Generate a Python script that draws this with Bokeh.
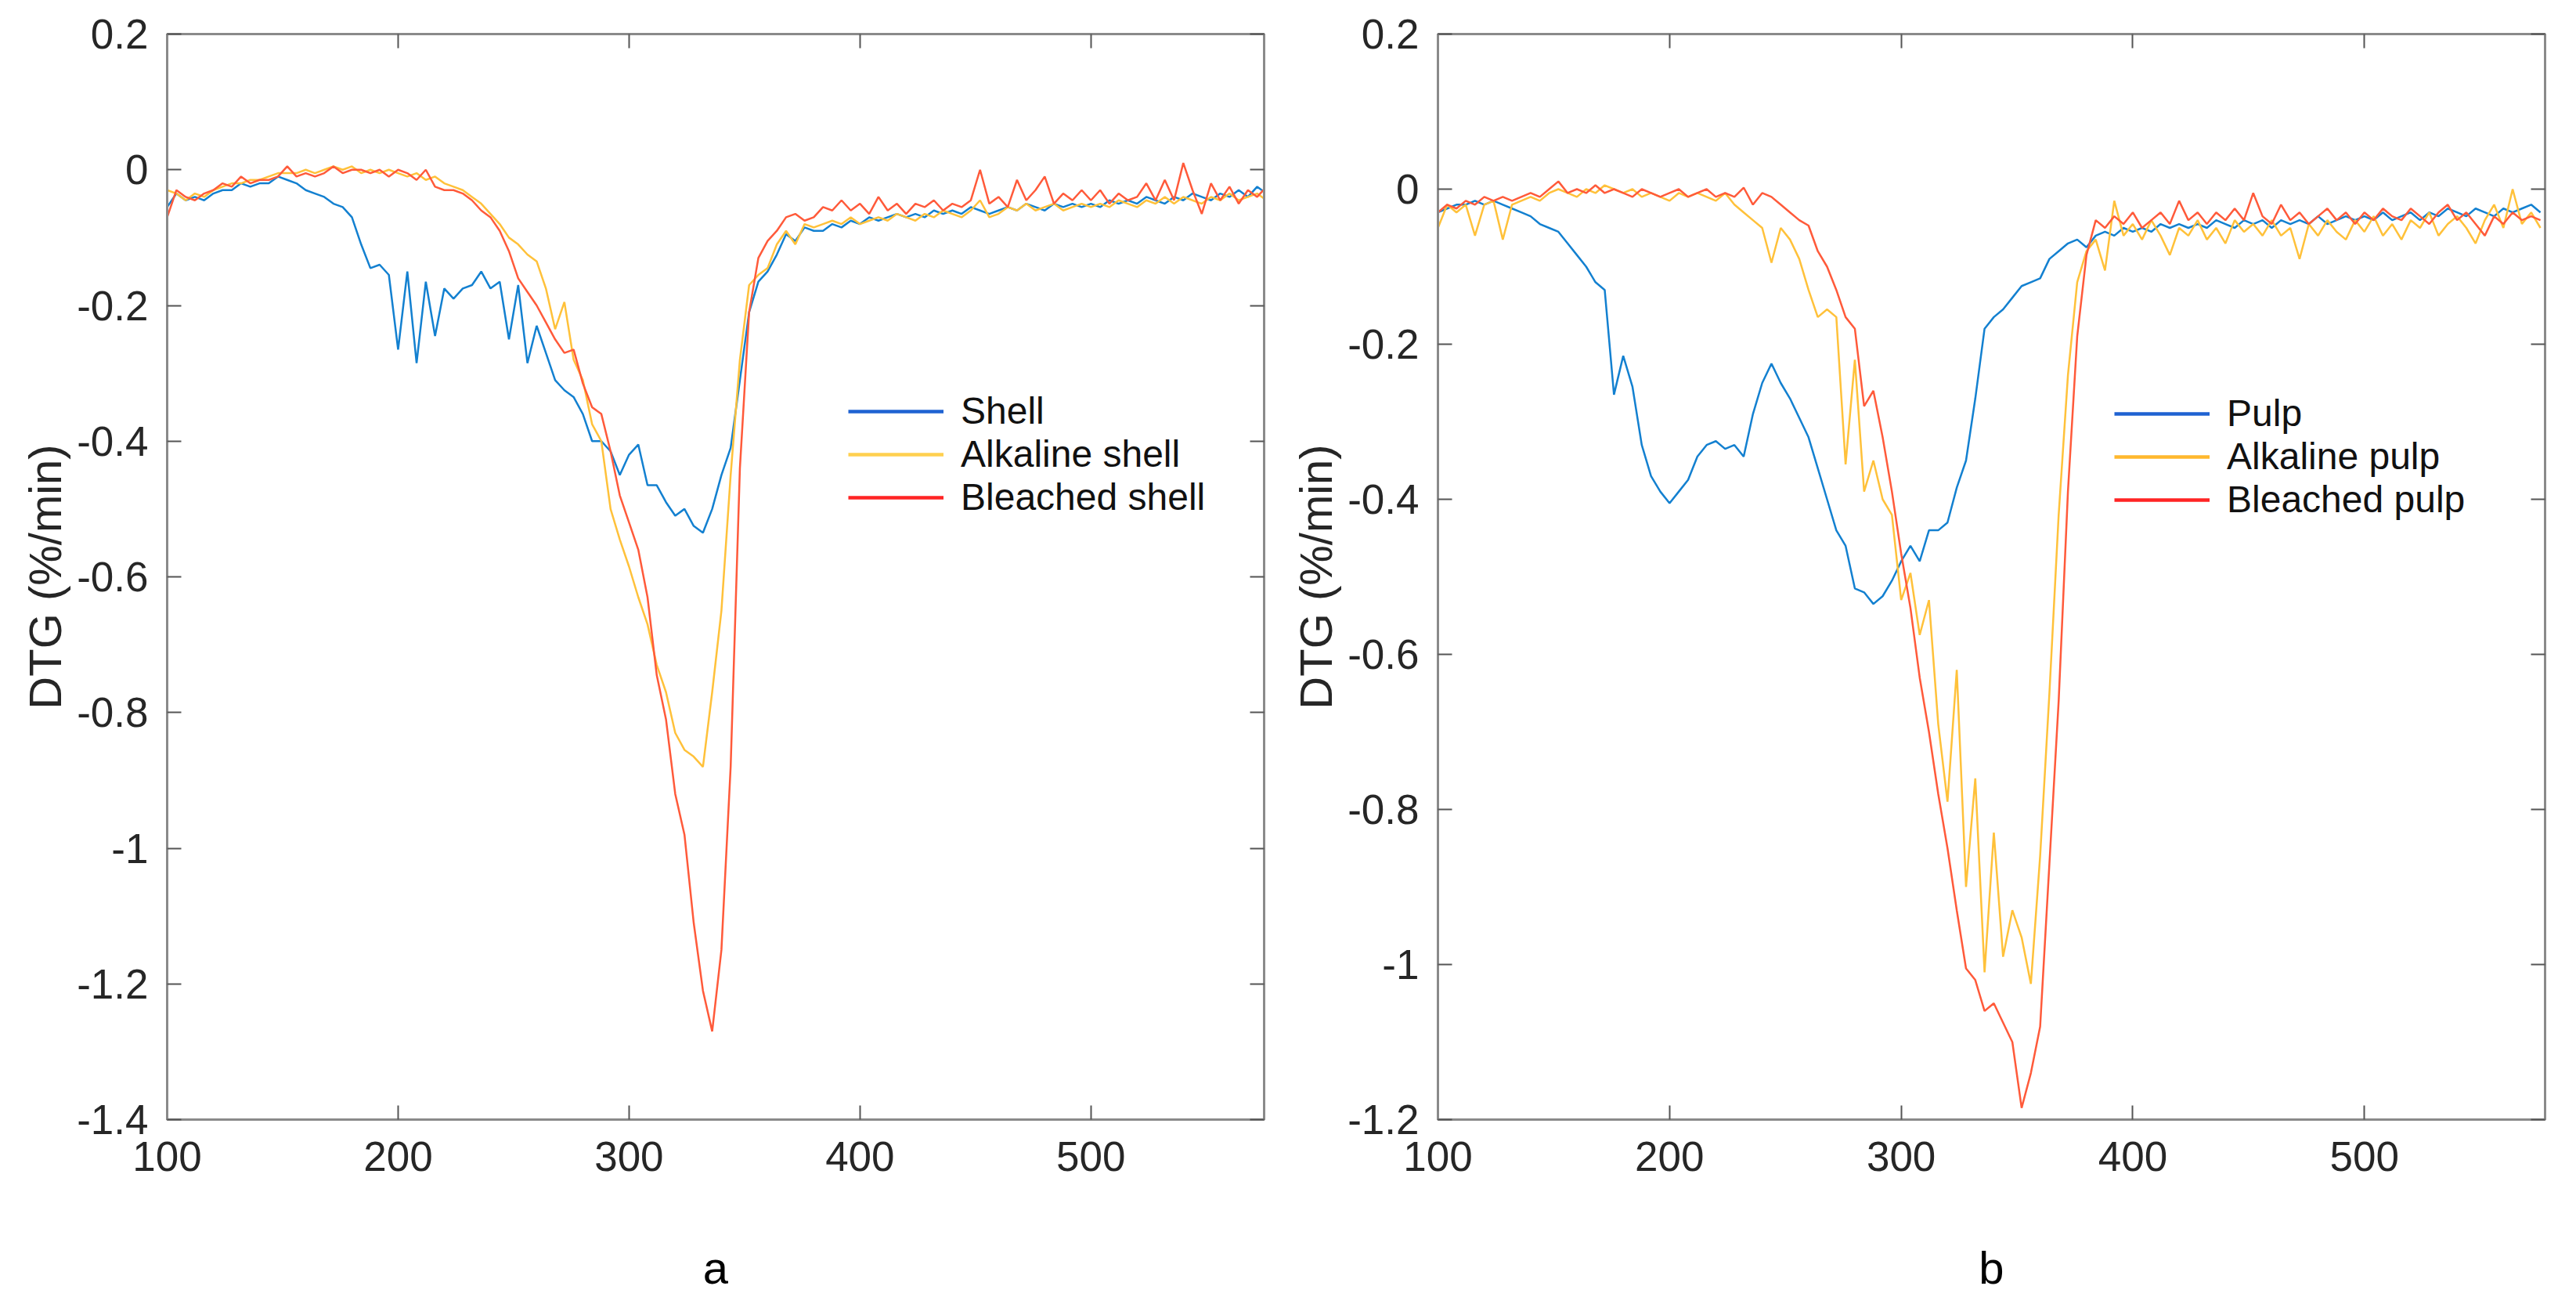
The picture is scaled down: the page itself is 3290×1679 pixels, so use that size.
from bokeh.plotting import figure
from bokeh.layouts import row
from bokeh.models import (LinearAxis, FixedTicker, Range1d, Legend, LegendItem,
                          CustomJSTickFormatter)
from bokeh.embed import file_html
from bokeh.resources import INLINE

# temperature grid (deg C), shared by all curves
temps = list(range(100, 577, 4))

# panel a: DTG (%/min)
shell = [
    -0.055, -0.035, -0.045, -0.04, -0.045, -0.035, -0.03, -0.03, -0.02, -0.025,
    -0.02, -0.02, -0.01, -0.015, -0.02, -0.03, -0.035, -0.04, -0.05, -0.055,
    -0.07, -0.11, -0.145, -0.14, -0.155, -0.265, -0.15, -0.285, -0.165, -0.245,
    -0.175, -0.19, -0.175, -0.17, -0.15, -0.175, -0.165, -0.25, -0.17, -0.285,
    -0.23, -0.27, -0.31, -0.325, -0.335, -0.36, -0.40, -0.40, -0.415, -0.45,
    -0.42, -0.405, -0.465, -0.465, -0.49, -0.51, -0.50, -0.525, -0.535, -0.50,
    -0.45, -0.41, -0.31, -0.21, -0.165, -0.15, -0.125, -0.095, -0.105, -0.085,
    -0.09, -0.09, -0.08, -0.085, -0.075, -0.08, -0.07, -0.075, -0.07, -0.065,
    -0.07, -0.065, -0.07, -0.06, -0.065, -0.06, -0.065, -0.055, -0.06, -0.065,
    -0.06, -0.055, -0.06, -0.05, -0.055, -0.06, -0.05, -0.055, -0.05, -0.055,
    -0.05, -0.055, -0.045, -0.05, -0.045, -0.05, -0.04, -0.045, -0.05, -0.04,
    -0.045, -0.035, -0.04, -0.045, -0.035, -0.04, -0.03, -0.04, -0.025, -0.035,
]
alkaline_shell = [
    -0.03, -0.035, -0.045, -0.035, -0.04, -0.03, -0.025, -0.02, -0.02, -0.015,
    -0.015, -0.01, -0.005, -0.005, -0.005, 0.0, -0.005, 0.0, 0.005, 0.0,
    0.005, -0.005, 0.0, -0.005, 0.0, -0.005, -0.01, -0.005, -0.015, -0.01,
    -0.02, -0.025, -0.03, -0.04, -0.05, -0.065, -0.08, -0.10, -0.11, -0.125,
    -0.135, -0.175, -0.235, -0.195, -0.28, -0.31, -0.375, -0.40, -0.50, -0.545,
    -0.585, -0.63, -0.67, -0.73, -0.77, -0.83, -0.855, -0.865, -0.88, -0.77,
    -0.65, -0.45, -0.28, -0.17, -0.155, -0.145, -0.11, -0.09, -0.11, -0.08,
    -0.085, -0.08, -0.075, -0.08, -0.07, -0.08, -0.075, -0.07, -0.075, -0.065,
    -0.07, -0.075, -0.065, -0.07, -0.06, -0.065, -0.07, -0.06, -0.045, -0.07,
    -0.065, -0.055, -0.06, -0.05, -0.06, -0.055, -0.05, -0.06, -0.055, -0.05,
    -0.055, -0.05, -0.055, -0.045, -0.05, -0.055, -0.045, -0.05, -0.04, -0.05,
    -0.04, -0.045, -0.05, -0.04, -0.045, -0.035, -0.045, -0.04, -0.035, -0.045,
]
bleached_shell = [
    -0.07, -0.03, -0.04, -0.045, -0.035, -0.03, -0.02, -0.025, -0.01, -0.02,
    -0.015, -0.015, -0.01, 0.005, -0.01, -0.005, -0.01, -0.005, 0.005, -0.005,
    0.0, 0.0, -0.005, 0.0, -0.01, 0.0, -0.005, -0.015, 0.0, -0.025,
    -0.03, -0.03, -0.035, -0.045, -0.06, -0.07, -0.09, -0.12, -0.16, -0.18,
    -0.20, -0.225, -0.25, -0.27, -0.265, -0.315, -0.35, -0.36, -0.415, -0.48,
    -0.52, -0.56, -0.63, -0.745, -0.81, -0.92, -0.98, -1.11, -1.21, -1.27,
    -1.15, -0.88, -0.44, -0.21, -0.13, -0.105, -0.09, -0.07, -0.065, -0.075,
    -0.07, -0.055, -0.06, -0.045, -0.06, -0.05, -0.065, -0.04, -0.06, -0.05,
    -0.065, -0.05, -0.055, -0.045, -0.06, -0.05, -0.055, -0.045, 0.0, -0.05,
    -0.04, -0.055, -0.015, -0.045, -0.03, -0.01, -0.05, -0.035, -0.045, -0.03,
    -0.045, -0.03, -0.05, -0.035, -0.045, -0.04, -0.02, -0.045, -0.015, -0.045,
    0.01, -0.03, -0.065, -0.02, -0.045, -0.025, -0.05, -0.03, -0.04, -0.025,
]

# panel b: DTG (%/min)
pulp = [
    -0.03, -0.025, -0.02, -0.02, -0.015, -0.02, -0.015, -0.02, -0.025, -0.03,
    -0.035, -0.045, -0.05, -0.055, -0.07, -0.085, -0.10, -0.12, -0.13, -0.265,
    -0.215, -0.255, -0.33, -0.37, -0.39, -0.405, -0.39, -0.375, -0.345, -0.33,
    -0.325, -0.335, -0.33, -0.345, -0.29, -0.25, -0.225, -0.25, -0.27, -0.295,
    -0.32, -0.36, -0.40, -0.44, -0.46, -0.515, -0.52, -0.535, -0.525, -0.505,
    -0.48, -0.46, -0.48, -0.44, -0.44, -0.43, -0.385, -0.35, -0.27, -0.18,
    -0.165, -0.155, -0.14, -0.125, -0.12, -0.115, -0.09, -0.08, -0.07, -0.065,
    -0.075, -0.06, -0.055, -0.06, -0.05, -0.055, -0.05, -0.055, -0.045, -0.05,
    -0.045, -0.05, -0.045, -0.05, -0.04, -0.045, -0.05, -0.04, -0.045, -0.04,
    -0.05, -0.04, -0.045, -0.04, -0.045, -0.035, -0.045, -0.04, -0.035, -0.04,
    -0.035, -0.04, -0.03, -0.04, -0.035, -0.03, -0.04, -0.03, -0.035, -0.025,
    -0.03, -0.035, -0.025, -0.03, -0.035, -0.025, -0.03, -0.025, -0.02, -0.03,
]
alkaline_pulp = [
    -0.05, -0.02, -0.03, -0.02, -0.06, -0.02, -0.015, -0.065, -0.02, -0.015,
    -0.01, -0.015, -0.005, 0.0, -0.005, -0.01, 0.0, -0.005, 0.005, 0.0,
    -0.005, 0.0, -0.01, -0.005, -0.01, -0.015, -0.005, -0.01, -0.005, -0.01,
    -0.015, -0.005, -0.02, -0.03, -0.04, -0.05, -0.095, -0.05, -0.065, -0.09,
    -0.13, -0.165, -0.155, -0.165, -0.355, -0.22, -0.39, -0.35, -0.40, -0.42,
    -0.53, -0.495, -0.575, -0.53, -0.69, -0.79, -0.62, -0.90, -0.76, -1.01,
    -0.83, -0.99, -0.93, -0.965, -1.025, -0.86, -0.65, -0.42, -0.24, -0.12,
    -0.08, -0.065, -0.105, -0.015, -0.06, -0.045, -0.065, -0.04, -0.06, -0.085,
    -0.05, -0.06, -0.04, -0.065, -0.05, -0.07, -0.04, -0.055, -0.045, -0.06,
    -0.04, -0.06, -0.05, -0.09, -0.045, -0.06, -0.04, -0.055, -0.065, -0.04,
    -0.055, -0.035, -0.06, -0.045, -0.065, -0.04, -0.05, -0.03, -0.06, -0.045,
    -0.035, -0.05, -0.07, -0.04, -0.02, -0.05, 0.0, -0.045, -0.03, -0.05,
]
bleached_pulp = [
    -0.03, -0.02, -0.025, -0.015, -0.02, -0.01, -0.015, -0.01, -0.015, -0.01,
    -0.005, -0.01, 0.0, 0.01, -0.005, 0.0, -0.005, 0.005, -0.005, 0.0,
    -0.005, -0.01, 0.0, -0.005, -0.01, -0.005, 0.0, -0.01, -0.005, 0.0,
    -0.01, -0.005, -0.01, 0.002, -0.02, -0.005, -0.01, -0.02, -0.03, -0.04,
    -0.047, -0.08, -0.10, -0.13, -0.165, -0.18, -0.28, -0.26, -0.32, -0.39,
    -0.47, -0.54, -0.63, -0.70, -0.78, -0.85, -0.93, -1.005, -1.02, -1.06,
    -1.05, -1.075, -1.10, -1.185, -1.14, -1.08, -0.87, -0.66, -0.39, -0.19,
    -0.085, -0.04, -0.05, -0.035, -0.045, -0.03, -0.05, -0.04, -0.03, -0.045,
    -0.015, -0.04, -0.03, -0.045, -0.03, -0.04, -0.025, -0.04, -0.005, -0.035,
    -0.045, -0.02, -0.04, -0.03, -0.045, -0.035, -0.025, -0.04, -0.03, -0.045,
    -0.03, -0.04, -0.025, -0.035, -0.04, -0.025, -0.035, -0.045, -0.03, -0.02,
    -0.04, -0.03, -0.045, -0.06, -0.035, -0.045, -0.03, -0.04, -0.035, -0.04,
]

x_ticks = [100, 200, 300, 400, 500]
x_labels = ["100", "200", "300", "400", "500"]
y_ticks_a = [0.2, 0, -0.2, -0.4, -0.6, -0.8, -1, -1.2, -1.4]
y_labels_a = ["0.2", "0", "-0.2", "-0.4", "-0.6", "-0.8", "-1", "-1.2", "-1.4"]
y_ticks_b = [0.2, 0, -0.2, -0.4, -0.6, -0.8, -1, -1.2]
y_labels_b = ["0.2", "0", "-0.2", "-0.4", "-0.6", "-0.8", "-1", "-1.2"]

names_a = ["Shell", "Alkaline shell", "Bleached shell"]
names_b = ["Pulp", "Alkaline pulp", "Bleached pulp"]

FONT = "Liberation Sans"
CURVE_COLORS = ["#1380D0", "#FFC13A", "#FF5A3A"]
KEY_COLORS_A = ["#1F62D2", "#FFD04F", "#FF2424"]
KEY_COLORS_B = ["#1F62D2", "#FFB82E", "#FF2424"]
FRAME = "#8a8a8a"
TEXT = "#262626"
NAN = float("nan")


def style_axis(ax, size):
    ax.axis_line_color = FRAME
    ax.axis_line_width = 3
    ax.major_tick_in = 18
    ax.major_tick_out = 0
    ax.major_tick_line_color = "#555555"
    ax.major_tick_line_width = 2
    ax.minor_tick_line_color = None
    ax.major_label_text_font = FONT
    ax.major_label_text_font_size = size
    ax.major_label_text_color = TEXT


def make_panel(x_end, y_start, y_ticks, y_labels, series, names, key_colors,
               sub, border_left, border_right, border_bottom, legend_xy):
    p = figure(width=1637, height=1660, output_backend="svg",
               toolbar_location=None,
               x_range=Range1d(100, x_end), y_range=Range1d(y_start, 0.2),
               min_border_left=border_left, min_border_right=border_right,
               min_border_top=43, min_border_bottom=border_bottom)
    p.grid.grid_line_color = None
    p.outline_line_color = FRAME
    p.outline_line_width = 3
    p.background_fill_color = "white"
    p.border_fill_color = "white"

    for ys, c in zip(series, CURVE_COLORS):
        p.line(temps, ys, line_color=c, line_width=2.5)

    xa = p.xaxis[0]
    xa.ticker = FixedTicker(ticks=x_ticks)
    xa.major_label_overrides = dict(zip(x_ticks, x_labels))
    style_axis(xa, "53px")
    xa.major_label_standoff = 28
    xa.axis_label = sub
    xa.axis_label_text_font = FONT
    xa.axis_label_text_font_size = "58px"
    xa.axis_label_text_font_style = "normal"
    xa.axis_label_text_color = "#000000"
    xa.axis_label_standoff = 88

    ya = p.yaxis[0]
    ya.ticker = FixedTicker(ticks=y_ticks)
    ya.major_label_overrides = dict(zip(y_ticks, y_labels))
    style_axis(ya, "53px")
    ya.major_label_standoff = 24
    ya.axis_label = "DTG (%/min)"
    ya.axis_label_text_font = FONT
    ya.axis_label_text_font_size = "58px"
    ya.axis_label_text_font_style = "normal"
    ya.axis_label_text_color = TEXT
    ya.axis_label_standoff = 5

    # box ticks on the top and right edges, without labels
    blank = CustomJSTickFormatter(code="return ''")
    top = LinearAxis(ticker=FixedTicker(ticks=x_ticks), formatter=blank)
    style_axis(top, "1px")
    p.add_layout(top, "above")
    right = LinearAxis(ticker=FixedTicker(ticks=y_ticks), formatter=blank)
    style_axis(right, "1px")
    p.add_layout(right, "right")

    # legend keys: thicker lines than the curves, as in the original figure
    items = []
    for name, c in zip(names, key_colors):
        r = p.line([NAN, NAN], [NAN, NAN], line_color=c, line_width=4.5)
        items.append(LegendItem(label=name, renderers=[r]))
    leg = Legend(items=items, location=legend_xy, orientation="vertical",
                 glyph_width=122, glyph_height=54, label_height=54,
                 label_standoff=22, spacing=0, padding=0, margin=0,
                 label_text_font=FONT, label_text_font_size="48px",
                 label_text_color="#111111",
                 background_fill_alpha=0, border_line_color=None)
    p.add_layout(leg, "center")
    return p


pa = make_panel(575, -1.4, y_ticks_a, y_labels_a,
                [shell, alkaline_shell, bleached_shell], names_a, KEY_COLORS_A,
                "a", 213, 23, 229, (870, 767))
pb = make_panel(578, -1.2, y_ticks_b, y_labels_b,
                [pulp, alkaline_pulp, bleached_pulp], names_b, KEY_COLORS_B,
                "b", 199, 24, 231, (864, 764))

layout = row(pa, pb, spacing=0)
open("out.html", "w").write(file_html(layout, INLINE))
